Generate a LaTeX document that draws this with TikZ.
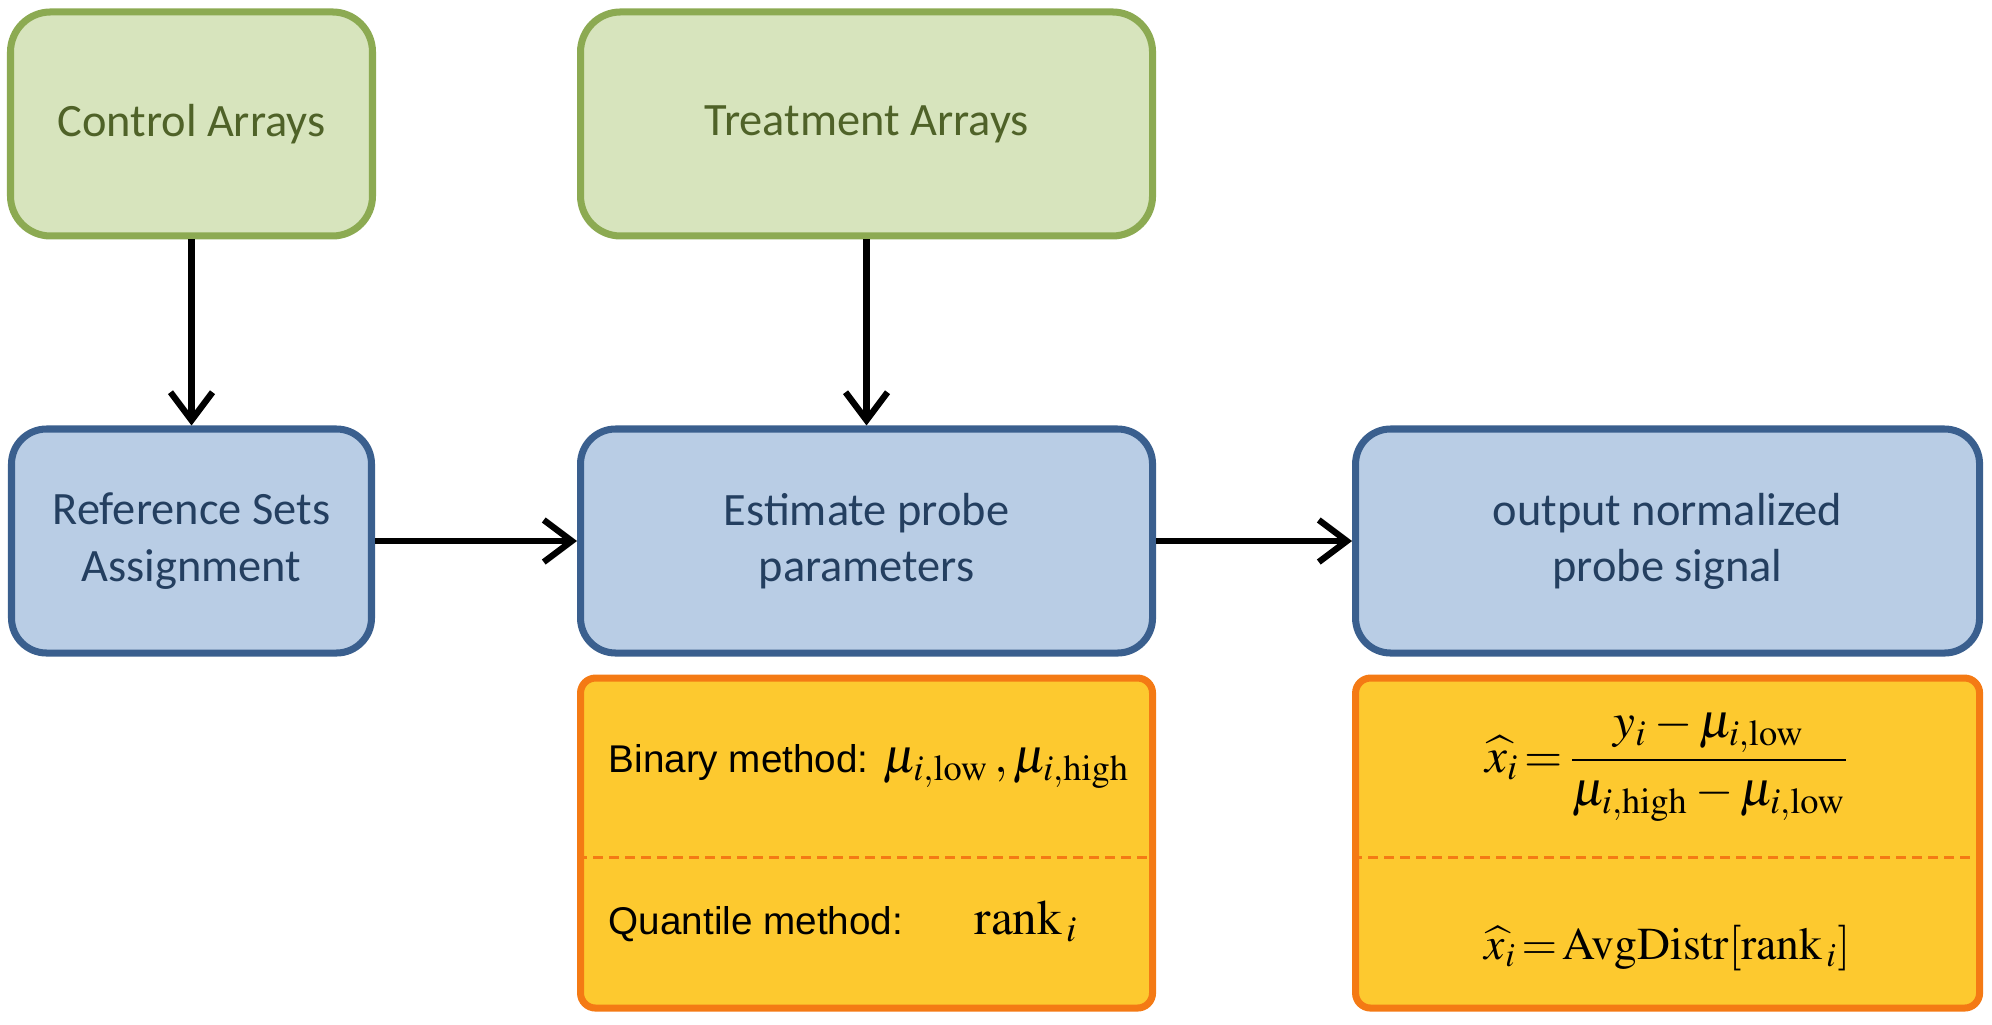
\documentclass[tikz,border=0pt]{standalone}
\usepackage{amsmath}
\usepackage{mathptmx}
\usepackage[no-math]{fontspec}
\setmainfont{Carlito}
\newfontfamily\arialfont{Liberation Sans}
\usetikzlibrary{positioning,arrows.meta}
\definecolor{arrfill}{HTML}{D7E4BD}
\definecolor{arrline}{HTML}{8CAA52}
\definecolor{arrtext}{HTML}{4F6228}
\definecolor{procfill}{HTML}{B9CDE5}
\definecolor{procline}{HTML}{3A5F8E}
\definecolor{proctext}{HTML}{243F60}
\definecolor{infofill}{HTML}{FDC92F}
\definecolor{infoline}{HTML}{F47A14}
\newcommand{\mathsz}{\fontsize{14}{17}\selectfont}

\begin{document}
\begin{tikzpicture}[node distance=1.86cm and 1.96cm, every node/.style={font=\fontsize{13.2}{16}\selectfont},
  arraybox/.style={rectangle, rounded corners=0.4cm, draw=arrline, line width=2pt, fill=arrfill, text=arrtext, minimum height=2.24cm, align=center},
  procbox/.style={rectangle, rounded corners=0.35cm, draw=procline, line width=2pt, fill=procfill, text=proctext, minimum height=2.24cm, align=center},
  infobox/.style={rectangle, rounded corners=0.15cm, draw=infoline, line width=2pt, fill=infofill, minimum height=3.3cm},
  lbl/.style={inner sep=0pt, font=\arialfont\fontsize{11}{13}\selectfont},
  formula/.style={inner sep=0pt, font=\mathsz},
  arrow/.style={-{Straight Barb[length=2.8mm, width=4.2mm]}, line width=1.8pt}]
  \useasboundingbox (0,0) rectangle (19.92,-10.24);
  \node[procbox, minimum width=3.6cm] (refsets) at (1.915,-5.41) {Reference Sets\\Assignment};
  \node[procbox, minimum width=5.72cm, right=2.02cm of refsets] (estim) {Estimate probe\\parameters};
  \node[procbox, minimum width=6.24cm, right=of estim] (output) {output normalized\\probe signal};
  \node[arraybox, minimum width=3.62cm, above=of refsets] (control) {Control Arrays};
  \node[arraybox, minimum width=5.72cm, above=of estim] (treat) {Treatment Arrays};
  \node[infobox, minimum width=5.72cm, below=0.18cm of estim] (binbox) {};
  \node[infobox, minimum width=6.24cm, below=0.18cm of output] (fracbox) {};
  % methods
  \node[lbl, anchor=base west] (binlbl) at ([xshift=0.31cm, yshift=-0.98cm]binbox.north west) {Binary method:};
  \node[formula, anchor=base west] (binval) at ([xshift=3.06cm, yshift=-0.98cm]binbox.north west) {$\mu_{i,\mathrm{low}}\,,\mu_{i,\mathrm{high}}$};
  \node[lbl, anchor=base west] (qlbl) at ([xshift=0.31cm, yshift=-2.6cm]binbox.north west) {Quantile method:};
  \node[formula, anchor=base west] (qval) at ([xshift=3.97cm, yshift=-2.6cm]binbox.north west) {$\mathrm{rank}_{\,i}$};
  \draw[infoline, line width=0.6pt, dash pattern=on 1mm off 0.6mm] ([yshift=-1.83cm]binbox.north west) -- ([yshift=-1.83cm]binbox.north east);
  % normalized signal
  \node[formula] (fracval) at ([yshift=-0.91cm]fracbox.north) {$\displaystyle \widehat{x}_i\!=\!\frac{y_i-\mu_{i,\mathrm{low}}}{\mu_{i,\mathrm{high}}-\mu_{i,\mathrm{low}}}$};
  \node[formula, anchor=base, font=\fontsize{13}{16}\selectfont] (avgval) at ([yshift=-2.85cm]fracbox.north) {$\widehat{x}_i\!=\!\mathrm{AvgDistr}[\mathrm{rank}_{\,i}]$};
  \draw[infoline, line width=0.6pt, dash pattern=on 1mm off 0.6mm] ([yshift=-1.83cm]fracbox.north west) -- ([yshift=-1.83cm]fracbox.north east);
  \draw[arrow] (control) -- (refsets);
  \draw[arrow] (treat) -- (estim);
  \draw[arrow] (refsets) -- (estim);
  \draw[arrow] (estim) -- (output);
\end{tikzpicture}
\end{document}
